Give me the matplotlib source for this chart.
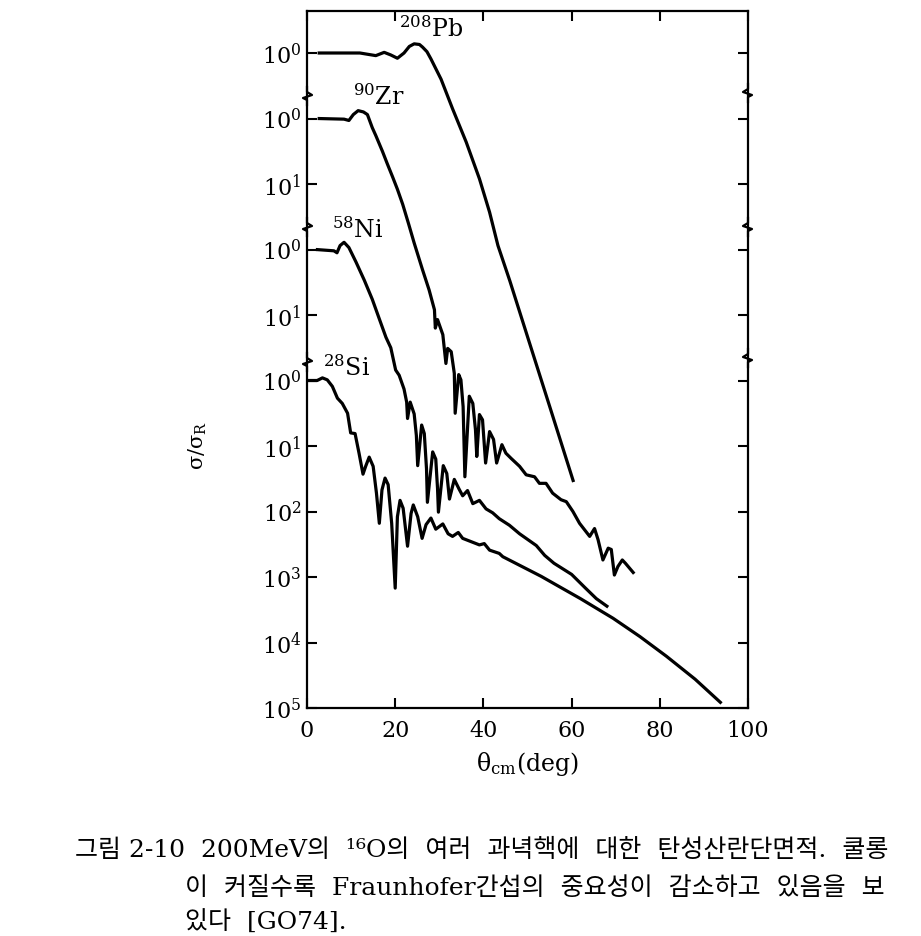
import numpy as np
import matplotlib
matplotlib.use("Agg")
import matplotlib.pyplot as plt

plt.rcParams["font.family"] = ["DejaVu Serif", "Noto Sans CJK KR"]
plt.rcParams["mathtext.fontset"] = "dejavuserif"

# ---------------------------------------------------------------------------
# Data: theta_cm (deg) and log10(sigma / sigma_R)
# ---------------------------------------------------------------------------

pb_theta = [2.4, 8.0, 12.0, 15.6, 17.5, 19.0, 20.5, 22.0, 23.2, 24.3, 25.5, 26.2,
            27.2, 28.1, 30.4, 33.0, 36.1, 39.1, 41.4, 43.3, 46.0, 50.0, 55.0, 60.45]
pb_log = [0.0, 0.0, 0.0, -0.04, 0.01, -0.03, -0.08, 0.0, 0.10, 0.14, 0.13, 0.09,
          0.02, -0.09, -0.40, -0.85, -1.36, -1.92, -2.43, -2.94, -3.48, -4.33, -5.39, -6.55]

zr_theta = [2.4, 8.4, 9.5, 10.5, 11.6, 12.8, 13.7, 14.8, 15.6, 17.1, 18.2, 19.4,
            20.5, 21.7, 23.0, 24.3, 26.2, 27.7, 28.9, 29.1, 29.6, 30.8, 31.5,
            31.9, 32.7, 33.4, 33.6, 34.4, 34.9, 35.4, 35.8, 36.8, 37.6, 38.2, 38.5,
            39.1, 39.8, 40.5, 41.4, 42.3, 43.0, 44.2, 45.1, 46.3, 48.2, 49.7, 51.6,
            52.7, 54.2, 55.7, 57.6, 58.8, 60.3, 61.8, 64.1, 65.2, 66.0, 67.1, 68.3,
            69.0, 69.7, 70.5, 71.5, 72.2, 74.2]
zr_log = [0.0, -0.01, -0.03, 0.06, 0.12, 0.10, 0.06, -0.14, -0.26, -0.50, -0.69, -0.89,
          -1.08, -1.31, -1.60, -1.90, -2.31, -2.62, -2.92, -3.20, -3.07, -3.30, -3.74,
          -3.51, -3.56, -3.89, -4.50, -3.91, -3.99, -4.40, -5.47, -4.24, -4.35, -4.75, -5.16,
          -4.52, -4.60, -5.26, -4.78, -4.90, -5.26, -4.98, -5.11, -5.19, -5.31, -5.44, -5.47,
          -5.57, -5.57, -5.72, -5.82, -5.85, -6.00, -6.18, -6.38, -6.26, -6.43, -6.74, -6.56,
          -6.58, -6.97, -6.84, -6.74, -6.79, -6.95]

ni_theta = [2.0, 6.1, 6.8, 7.5, 8.4, 9.5, 11.1, 13.0, 14.8, 16.4, 17.9, 19.0,
            20.1, 20.9, 22.0, 22.6, 22.8, 23.4, 24.3, 24.8,
            25.1, 26.0, 26.6, 27.1, 27.3, 28.5, 29.2, 29.6, 29.8, 30.9, 31.7, 32.3,
            33.4, 34.5, 35.3, 36.4, 37.6, 39.1, 40.6, 42.1, 43.6, 45.9, 48.2, 52.0,
            53.9, 56.0, 60.0, 63.0, 65.6, 68.3]
ni_log = [0.0, -0.02, -0.05, 0.06, 0.11, 0.03, -0.19, -0.47, -0.76, -1.06, -1.34, -1.50,
          -1.84, -1.92, -2.13, -2.33, -2.58, -2.33, -2.51, -2.84,
          -3.30, -2.68, -2.81, -3.35, -3.86, -3.09, -3.20, -3.65, -4.01, -3.30, -3.42, -3.81,
          -3.51, -3.66, -3.76, -3.68, -3.88, -3.83, -3.96, -4.02, -4.11, -4.21, -4.34, -4.52,
          -4.67, -4.79, -4.96, -5.16, -5.33, -5.46]

si_theta = [0.0, 2.3, 3.5, 4.6, 5.75, 6.9, 8.0, 9.2, 9.9, 10.9, 11.8, 12.7,
            13.3, 14.1, 15.0, 15.75, 16.4, 17.0, 17.7, 18.4, 19.2, 20.0, 20.5, 21.1,
            21.8, 22.8, 23.6, 24.1, 25.1, 26.1, 27.0, 28.1, 29.2, 30.8, 32.0, 33.0,
            34.3, 35.3, 37.2, 39.1, 40.2, 41.4, 43.6, 44.4, 53.1, 56.5, 62.0, 69.4,
            75.5, 81.5, 88.0, 94.0]
si_log = [0.0, 0.0, 0.04, 0.01, -0.09, -0.27, -0.35, -0.50, -0.80, -0.81, -1.11, -1.43,
          -1.31, -1.17, -1.31, -1.72, -2.18, -1.67, -1.49, -1.59, -2.18, -3.17, -2.08, -1.83,
          -1.95, -2.53, -2.03, -1.90, -2.08, -2.41, -2.20, -2.10, -2.27, -2.19, -2.34, -2.38,
          -2.32, -2.41, -2.46, -2.51, -2.49, -2.59, -2.64, -2.69, -2.99, -3.12, -3.33, -3.63,
          -3.91, -4.21, -4.56, -4.93]

nuclei = ["$^{208}$Pb", "$^{90}$Zr", "$^{58}$Ni", "$^{28}$Si"]

# y tick exponents as printed, top to bottom
ytick_exp = ["0", "0", "1", "0", "1", "0", "1", "2", "3", "4", "5"]
xticks = [0, 20, 40, 60, 80, 100]

caption = [
    "그림 2-10  200MeV의  ¹⁶O의  여러  과녁핵에  대한  탄성산란단면적.  쿨롱",
    "이  커질수록  Fraunhofer간섭의  중요성이  감소하고  있음을  보",
    "있다  [GO74].",
]

# ---------------------------------------------------------------------------
# Layout
# ---------------------------------------------------------------------------

W, H = 921, 937
shift = [5, 4, 2, 0]          # decades each curve is lifted on the shared axis
ax_l, ax_r, ax_t, ax_b = 307, 748, 12, 709
dec_px = 65.5
y_low = -5
y_high = y_low + (ax_b - ax_t) / dec_px

fig = plt.figure(figsize=(W / 100, H / 100), dpi=100)
ax = fig.add_axes([ax_l / W, 1 - ax_b / H, (ax_r - ax_l) / W, (ax_b - ax_t) / H])

curves = [(pb_theta, pb_log), (zr_theta, zr_log), (ni_theta, ni_log), (si_theta, si_log)]
for (th, lg), s in zip(curves, shift):
    ax.semilogy(th, 10 ** (np.array(lg) + s), color="black", lw=2.3,
                solid_joinstyle="round", solid_capstyle="butt")

ax.set_xlim(0, 100)
ax.set_ylim(10 ** y_low, 10 ** y_high)

ydec = [5, 4, 3, 2, 1, 0, -1, -2, -3, -4, -5]
ax.set_yticks([10.0 ** d for d in ydec])
ax.set_yticklabels([f"$10^{{{e}}}$" for e in ytick_exp])
ax.yaxis.set_minor_locator(matplotlib.ticker.NullLocator())
ax.set_xticks(xticks)
ax.set_xticklabels([str(v) for v in xticks])

ax.tick_params(direction="in", length=7.5, width=1.5, top=True, right=True,
               labelsize=16, color="black")
ax.tick_params(axis="x", pad=8)
ax.tick_params(axis="y", pad=4)
for sp in ax.spines.values():
    sp.set_linewidth(1.6)

# nucleus labels (baseline positions)
label_pos = [(20.9, 5.26), (10.5, 4.22), (5.7, 2.19), (3.6, 0.08)]
for name, (lx, ly) in zip(nuclei, label_pos):
    ax.text(lx, 10 ** ly, name, fontsize=17, ha="left", va="baseline")

# axis-break squiggles on the spines
w_ax, h_ax = ax_r - ax_l, ax_b - ax_t


def draw_break(xfrac, y_px, side):
    yfrac = (ax_b - y_px) / h_ax
    px = np.array([0, 0, -4, 5, 0, 0]) * side
    py = np.array([-9, -4, -2, 1, 4, 9])
    ax.plot(xfrac + px / w_ax, yfrac + py / h_ax, transform=ax.transAxes,
            color="black", lw=1.6, clip_on=False)


for yb in (97, 228, 363):
    draw_break(0.0, yb, 1)
for yb in (94, 228, 359):
    draw_break(1.0, yb, -1)

ax.set_xlabel("θ$_{\\rm cm}$(deg)", fontsize=17, labelpad=6)
fig.text(198 / W, 1 - 445 / H, "σ/σ$_{\\rm R}$", rotation=90,
         ha="center", va="center", fontsize=15)

# caption
fig.text(75 / W, 1 - 850 / H, caption[0], fontsize=18, ha="left", va="center")
fig.text(185 / W, 1 - 888 / H, caption[1], fontsize=18, ha="left", va="center")
fig.text(185 / W, 1 - 923 / H, caption[2], fontsize=18, ha="left", va="center")

fig.savefig("out.png", dpi=100)
